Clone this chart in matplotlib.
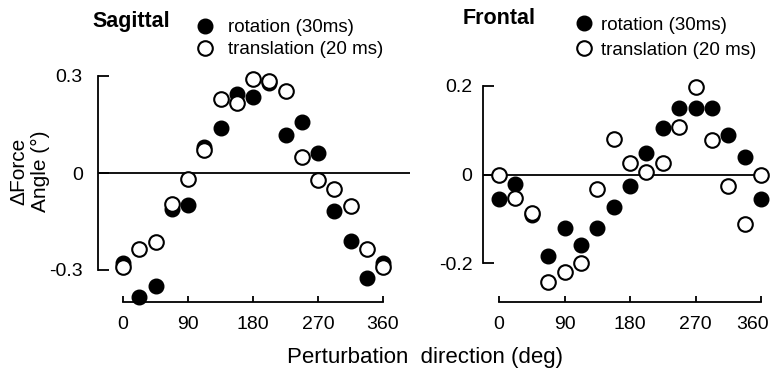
import matplotlib
matplotlib.use("Agg")
import matplotlib.pyplot as plt
import matplotlib.transforms as mtransforms
import numpy as np

plt.rcParams['font.family'] = ['Liberation Sans', 'DejaVu Sans']

#=========== Data ================
directions = np.arange(0, 361, 22.5)   # perturbation direction (deg)

sag_rotation = [-0.278, -0.383, -0.350, -0.111, -0.099, 0.080, 0.139, 0.244, 0.235,
                0.278, 0.118, 0.158, 0.062, -0.117, -0.210, -0.325, -0.278]
sag_translation = [-0.290, -0.235, -0.213, -0.096, -0.019, 0.071, 0.229, 0.216, 0.291,
                   0.285, 0.254, 0.049, -0.022, -0.050, -0.102, -0.235, -0.290]

front_rotation = [-0.055, -0.021, -0.092, -0.184, -0.121, -0.160, -0.121, -0.073, -0.026,
                  0.049, 0.105, 0.150, 0.150, 0.150, 0.089, 0.040, -0.055]
front_translation = [0.0, -0.053, -0.087, -0.243, -0.220, -0.200, -0.033, 0.080, 0.026,
                     0.006, 0.026, 0.107, 0.198, 0.078, -0.026, -0.112, 0.0]

x_ticks = [0, 90, 180, 270, 360]
series_labels = ["rotation (30ms)", "translation (20 ms)"]

#=========== Layout (pixels) ================
W, H = 771, 371
fig = plt.figure(figsize=(W / 100, H / 100), dpi=100)


def make_panel(box, x0, x360, yzero, px_per_unit, spine_px, base_px, line_end_px,
               yticks, ytick_labels, ypad):
    """Create an axes placed in pixel space with a range-frame look."""
    left, top, right, bottom = box
    ax = fig.add_axes([left / W, 1 - bottom / H, (right - left) / W, (bottom - top) / H])
    kx = (x360 - x0) / 360.0
    ax.set_xlim((left - x0) / kx, (right - x0) / kx)
    ax.set_ylim((yzero - bottom) / px_per_unit, (yzero - top) / px_per_unit)
    ax.patch.set_alpha(0)

    spine_x = (spine_px - x0) / kx
    base_y = (yzero - base_px) / px_per_unit
    for s in ["top", "right"]:
        ax.spines[s].set_visible(False)
    ax.spines["left"].set_position(("data", spine_x))
    ax.spines["left"].set_bounds(yticks[0], yticks[-1])
    ax.spines["bottom"].set_position(("data", base_y))
    ax.spines["bottom"].set_bounds(0, 360)
    for s in ["left", "bottom"]:
        ax.spines[s].set_linewidth(1.3)

    ax.set_yticks(yticks)
    ax.set_yticklabels(ytick_labels)
    ax.set_xticks(x_ticks)
    ax.tick_params(axis="y", direction="in", length=8, width=1.3, pad=ypad, labelsize=14)
    ax.tick_params(axis="x", direction="in", length=4, width=1.3, pad=10, labelsize=14)

    ax.hlines(0, spine_x, (line_end_px - x0) / kx, color="black", lw=1.3, zorder=1)
    return ax


def draw_series(ax, rotation, translation):
    h1, = ax.plot(directions, rotation, "o", color="black", ms=10.5,
                  clip_on=False, zorder=3)
    h2, = ax.plot(directions, translation, "o", mfc="white", mec="black", mew=1.5,
                  ms=10.5, clip_on=False, zorder=4)
    return h1, h2


# Sagittal
ax1 = make_panel((95, 60, 415, 315), 123, 383, 173, 97 / 0.3, 98, 302, 410,
                 [-0.3, 0, 0.3], ["-0.3", "0", "0.3"], 11)
h = draw_series(ax1, sag_rotation, sag_translation)
ax1.legend(h, series_labels, loc="upper left", bbox_to_anchor=(195.5 / W, 1 - 19 / H),
           bbox_transform=fig.transFigure, frameon=False, numpoints=1,
           handlelength=1.0, handletextpad=0.72, borderpad=0, borderaxespad=0,
           labelspacing=0.26, fontsize=13.5)

# Frontal
ax2 = make_panel((480, 60, 770, 315), 499, 761, 174.5, 88.5 / 0.2, 483, 302, 760,
                 [-0.2, 0, 0.2], ["-0.2", "0", "0.2"], 7.5)
h = draw_series(ax2, front_rotation, front_translation)
ax2.legend(h, series_labels, loc="upper left", bbox_to_anchor=(574.5 / W, 1 - 16.5 / H),
           bbox_transform=fig.transFigure, frameon=False, numpoints=1,
           handlelength=1.0, handletextpad=0.4, borderpad=0, borderaxespad=0,
           labelspacing=0.42, fontsize=13.5)

# the last "360" label sits a little left of its tick so it stays inside the figure
last = ax2.get_xticklabels()[-1]
last.set_transform(last.get_transform() +
                   mtransforms.ScaledTranslation(-8 / 100, 0, fig.dpi_scale_trans))

# Titles and axis labels
fig.text(92 / W, 1 - 22 / H, "Sagittal", fontsize=15.5, fontweight="bold", ha="left", va="center")
fig.text(463 / W, 1 - 18 / H, "Frontal", fontsize=15.5, fontweight="bold", ha="left", va="center")
fig.text(30 / W, 1 - 171 / H, "\u0394Force\nAngle (\u00b0)", fontsize=15, rotation=90,
         ha="center", va="center", multialignment="center", linespacing=1.15)
fig.text(425 / W, 1 - 357 / H, "Perturbation  direction (deg)", fontsize=16,
         ha="center", va="center")

fig.savefig("out.png", dpi=100)
